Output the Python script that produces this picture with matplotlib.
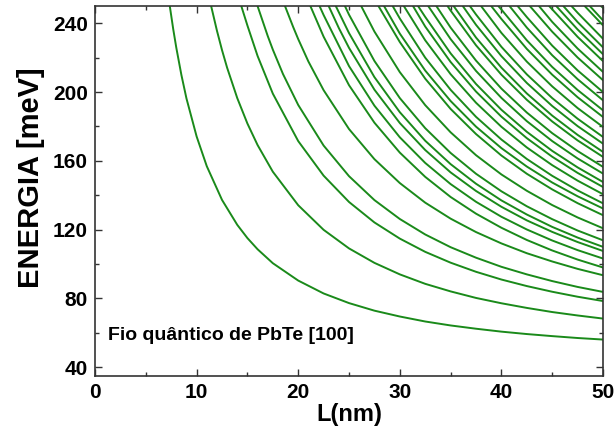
import matplotlib
matplotlib.use("Agg")
import matplotlib.pyplot as plt
from matplotlib.ticker import MultipleLocator

# Subband energies (meV) vs wire width L (nm).
# Each curve: its L values (nm) and the matching energies (meV).
curve_L = [
    [7.36, 7.7, 8, 8.5, 9, 10, 11, 12.5, 14, 15, 16, 17.5, 20, 22.5, 25, 27.5, 30, 32.5, 35, 37.5, 40, 42.5, 45, 47.5, 50],
    [11.43, 12, 12.5, 13, 14, 15, 16, 17.5, 20, 22.5, 25, 27.5, 30, 32.5, 35, 37.5, 40, 42.5, 45, 47.5, 50],
    [14.4, 15, 16, 17.5, 20, 22.5, 25, 27.5, 30, 32.5, 35, 37.5, 40, 42.5, 45, 47.5, 50],
    [16.0, 17, 17.5, 18.5, 20, 22.5, 25, 27.5, 30, 32.5, 35, 37.5, 40, 42.5, 45, 47.5, 50],
    [18.7, 19.5, 20, 21, 22.5, 25, 27.5, 30, 32.5, 35, 37.5, 40, 42.5, 45, 47.5, 50],
    [21.2, 22.5, 25, 27.5, 30, 32.5, 35, 37.5, 40, 42.5, 45, 47.5, 50],
    [22.1, 22.5, 25, 27.5, 30, 32.5, 35, 37.5, 40, 42.5, 45, 47.5, 50],
    [23.0, 24, 25, 27.5, 30, 32.5, 35, 37.5, 40, 42.5, 45, 47.5, 50],
    [23.7, 25, 27.5, 30, 32.5, 35, 37.5, 40, 42.5, 45, 47.5, 50],
    [24.6, 25, 27.5, 30, 32.5, 35, 37.5, 40, 42.5, 45, 47.5, 50],
    [26.2, 27.5, 30, 32.5, 35, 37.5, 40, 42.5, 45, 47.5, 50],
    [27.9, 30, 32.5, 35, 37.5, 40, 42.5, 45, 47.5, 50],
    [28.45, 30, 32.5, 35, 37.5, 40, 42.5, 45, 47.5, 50],
    [29.3, 30, 32.5, 35, 37.5, 40, 42.5, 45, 47.5, 50],
    [30.4, 32.5, 35, 37.5, 40, 42.5, 45, 47.5, 50],
    [31.3, 32.5, 35, 37.5, 40, 42.5, 45, 47.5, 50],
    [31.8, 32.5, 35, 37.5, 40, 42.5, 45, 47.5, 50],
    [32.8, 35, 37.5, 40, 42.5, 45, 47.5, 50],
    [33.6, 35, 37.5, 40, 42.5, 45, 47.5, 50],
    [34.7, 35, 37.5, 40, 42.5, 45, 47.5, 50],
    [35.3, 37.5, 40, 42.5, 45, 47.5, 50],
    [36.2, 37.5, 40, 42.5, 45, 47.5, 50],
    [36.9, 37.5, 40, 42.5, 45, 47.5, 50],
    [38.0, 40, 42.5, 45, 47.5, 50],
    [39.0, 40, 42.5, 45, 47.5, 50],
    [39.7, 40, 42.5, 45, 47.5, 50],
    [40.8, 42.5, 45, 47.5, 50],
    [41.6, 42.5, 45, 47.5, 50],
    [42.8, 45, 47.5, 50],
    [43.7, 45, 47.5, 50],
    [44.7, 45, 47.5, 50],
    [45.4, 47.5, 50],
    [46.1, 47.5, 50],
    [46.9, 47.5, 50],
    [48.2, 50],
    [48.7, 50],
    [49.8, 50],
]
curve_E = [
    [250, 236.5, 225.8, 210, 196.3, 174.2, 156.9, 137.3, 122.8, 115.1, 108.6, 100.5, 90.4, 82.9, 77.3, 72.9, 69.5, 66.6, 64.3, 62.4, 60.7, 59.3, 58.1, 57, 56.1],
    [250, 235.7, 224.4, 214.2, 196.5, 181.7, 169.2, 153.7, 134.2, 119.9, 109.1, 100.7, 94, 88.5, 84.1, 80.3, 77.2, 74.5, 72.1, 70.1, 68.3],
    [250, 238.7, 221, 199.1, 171.5, 151.4, 136.1, 124.2, 114.8, 107.1, 100.8, 95.5, 91, 87.2, 83.9, 81, 78.5],
    [250, 232.6, 224.7, 210.5, 192.5, 168.9, 151.1, 137.2, 126.2, 117.2, 109.8, 103.7, 98.4, 94, 90.1, 86.7, 83.8],
    [250, 237.9, 230.8, 217.8, 201.1, 178.5, 161, 147.1, 135.7, 126.4, 118.6, 112, 106.3, 101.5, 97.2, 93.5],
    [250, 232.2, 204, 182.2, 164.8, 150.7, 139, 129.3, 121.1, 114, 107.9, 102.6, 98],
    [250, 244.8, 215.1, 192.1, 173.7, 158.8, 146.5, 136.2, 127.5, 120.1, 113.7, 108.1, 103.2],
    [250, 237.2, 225.7, 201.4, 182, 166.3, 153.3, 142.5, 133.3, 125.4, 118.7, 112.8, 107.6],
    [250, 234.3, 208.7, 188.3, 171.7, 158.1, 146.7, 137, 128.8, 121.6, 115.4, 110],
    [250, 245, 218.1, 196.5, 179, 164.6, 152.5, 142.3, 133.6, 126.1, 119.5, 113.8],
    [250, 235.2, 211.6, 192.4, 176.6, 163.3, 152.1, 142.6, 134.3, 127.1, 120.8],
    [250, 229.1, 207.8, 190.2, 175.6, 163.1, 152.5, 143.4, 135.4, 128.4],
    [250, 234, 212.5, 194.8, 179.9, 167.4, 156.7, 147.4, 139.4, 132.3],
    [250, 242.8, 220, 201.3, 185.6, 172.4, 161.1, 151.3, 142.8, 135.3],
    [250, 230.1, 210.4, 193.8, 179.8, 167.8, 157.5, 148.5, 140.6],
    [250, 238.1, 217.5, 200.3, 185.7, 173.2, 162.4, 153, 144.8],
    [250, 243.7, 222.5, 204.7, 189.7, 176.9, 165.8, 156.2, 147.7],
    [250, 230.8, 212.3, 196.6, 183.1, 171.5, 161.4, 152.6],
    [250, 237.5, 218.3, 202, 188.1, 176.1, 165.7, 156.5],
    [250, 247.4, 227.2, 210.1, 195.5, 182.9, 171.9, 162.3],
    [250, 231.7, 214.2, 199.2, 186.3, 175.1, 165.2],
    [250, 239.1, 220.9, 205.3, 191.9, 180.2, 170],
    [250, 245.1, 226.3, 210.3, 196.5, 184.5, 173.9],
    [250, 234.4, 217.7, 203.3, 190.7, 179.7],
    [250, 242.5, 225.1, 210.1, 197, 185.5],
    [250, 248, 230.1, 214.6, 201.2, 189.4],
    [250, 237.5, 221.4, 207.5, 195.2],
    [250, 243.6, 227, 212.6, 200],
    [250, 235.1, 220.1, 206.9],
    [250, 240.8, 225.3, 211.7],
    [250, 248.1, 232.1, 218],
    [250, 236.4, 222],
    [250, 240.7, 226],
    [250, 246.1, 231],
    [250, 238.8],
    [250, 241.7],
    [250, 249],
]

x_ticks = [0, 10, 20, 30, 40, 50]
y_ticks = [40, 80, 120, 160, 200, 240]

plt.rcParams['font.family'] = ['Liberation Sans', 'DejaVu Sans']

fig = plt.figure(figsize=(6.15, 4.34), dpi=100)
ax = fig.add_axes([0.1545, 0.134, 0.826, 0.852])

green = '#1a8a1a'
for Ls, Es in zip(curve_L, curve_E):
    ax.plot(Ls, Es, color=green, lw=1.4, solid_joinstyle='round',
            solid_capstyle='round')

ax.set_xlim(0, 50)
ax.set_ylim(35, 250)
ax.set_xticks(x_ticks)
ax.set_yticks(y_ticks)
ax.xaxis.set_minor_locator(MultipleLocator(5))
ax.yaxis.set_minor_locator(MultipleLocator(20))
ax.tick_params(which='both', direction='in', top=True, right=True,
               width=1.0, colors='#333333', labelcolor='black')
ax.tick_params(which='major', length=5, labelsize=15, pad=5)
ax.tick_params(which='minor', length=3)
for lab in ax.get_xticklabels() + ax.get_yticklabels():
    lab.set_fontweight('bold')
for sp in ax.spines.values():
    sp.set_linewidth(1.2)
    sp.set_color('#333333')

ax.set_xlabel('L(nm)', fontsize=17, fontweight='bold', labelpad=1)
ax.set_ylabel('ENERGIA [meV]', fontsize=21, fontweight='bold')
ax.yaxis.set_label_coords(-0.098, 0.535)
ax.text(1.3, 58.5, 'Fio quântico de PbTe [100]', fontsize=14,
        fontweight='bold', va='center', ha='left')

fig.savefig('out.png', dpi=100)
